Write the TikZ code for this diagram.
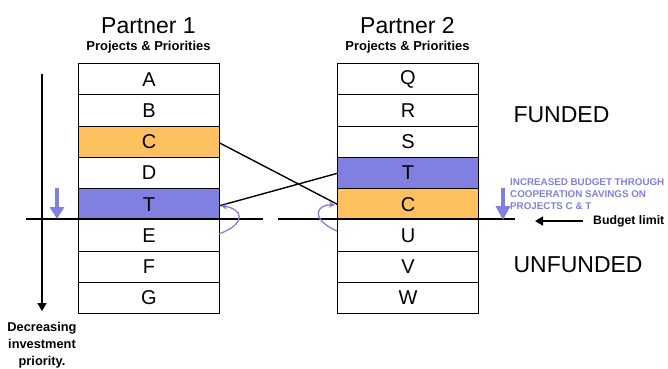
\documentclass[tikz,border=0pt]{standalone}
\usepackage{fontspec}
\setmainfont{Liberation Sans}
\usetikzlibrary{arrows.meta}
\definecolor{porange}{RGB}{255,192,96}
\definecolor{pblue}{RGB}{128,128,224}
\begin{document}
\begin{tikzpicture}[x=1pt,y=-1pt,
  cell/.style={draw=black,line width=1pt,minimum width=141pt,minimum height=31.25pt,inner sep=0pt,anchor=north west,font=\fontsize{20}{20}\selectfont},
  title/.style={font=\fontsize{23}{23}\selectfont},
  subtitle/.style={font=\bfseries\fontsize{13}{13}\selectfont},
  big/.style={font=\fontsize{23}{23}\selectfont},
  bline/.style={line width=1.4pt},
  curv/.style={pblue,line width=1.3pt,-{Stealth[length=6pt,width=6pt]}}]
\useasboundingbox (0,0) rectangle (668,368);
% titles
\node[title] (t1) at (148.5,26) {Partner 1};
\node[subtitle] (s1) at (148.5,47) {Projects \& Priorities};
\node[title] (t2) at (407.5,26) {Partner 2};
\node[subtitle] (s2) at (407.5,47) {Projects \& Priorities};
% columns
\foreach \l [count=\i from 0] in {A,B,C,D,T,E,F,G}{
  \node[cell] (p1\l) at (78,63+31.25*\i) {\l};
}
\foreach \l [count=\i from 0] in {Q,R,S,T,C,U,V,W}{
  \node[cell] (p2\l) at (337,63+31.25*\i) {\l};
}
\node[cell,fill=porange] (p1C) at (78,63+31.25*2) {C};
\node[cell,fill=pblue] (p1T) at (78,63+31.25*4) {T};
\node[cell,fill=pblue] (p2T) at (337,63+31.25*3) {T};
\node[cell,fill=porange] (p2C) at (337,63+31.25*4) {C};
% budget lines
\coordinate (bl1) at (26,219);
\coordinate (bl2) at (263,219);
\coordinate (bl3) at (278,219);
\coordinate (bl4) at (515,219);
\draw[bline] (bl1) -- (bl2);
\draw[bline] (bl3) -- (bl4);
% crossing lines
\draw[bline] ([yshift=-1.5pt]p1C.east) -- (p2C.west);
\draw[bline] ([yshift=-1.5pt]p1T.east) -- ([yshift=-0.5pt]p2T.west);
% curved arrows
\coordinate (ca1) at (219,234);
\coordinate (ca1t) at (221,206);
\coordinate (ca2) at (337,231);
\coordinate (ca2t) at (335,205);
\draw[curv] (ca1) .. controls (250,222) and (240,208) .. (ca1t);
\draw[curv] (ca2) .. controls (308,218) and (318,204) .. (ca2t);
% priority arrow
\coordinate (pa1) at (42,74);
\coordinate (pa2) at (42,311);
\draw[line width=1.6pt,-{Triangle[length=8pt,width=9pt]}] (pa1) -- (pa2);
\node[font=\bfseries\fontsize{12.8}{17}\selectfont,align=center] (dec) at (42,345) {Decreasing\\investment\\priority.};
% blue down arrows
\coordinate (ba1) at (57,188);
\coordinate (ba2) at (57,219);
\draw[pblue,line width=4pt,-{Triangle[length=12pt,width=14pt]}] (ba1) -- (ba2);
\coordinate (ba3) at (503,188);
\coordinate (ba4) at (503,220);
\draw[pblue,line width=4pt,-{Triangle[length=14pt,width=14pt]}] (ba3) -- (ba4);
% labels
\node[big,anchor=west] (fund) at (510,115) {FUNDED};
\node[big,anchor=west] (unfund) at (510,265) {UNFUNDED};
\node[pblue,font=\bfseries\fontsize{9.8}{12}\selectfont,align=left,anchor=north west,inner sep=0pt] (inc) at (510,178) {INCREASED BUDGET THROUGH\\COOPERATION SAVINGS ON\\PROJECTS C \& T};
\node[font=\bfseries\fontsize{12.3}{12}\selectfont,anchor=west,inner sep=0pt] (blim) at (593,221) {Budget limit};
\draw[line width=1.6pt,-{Triangle[length=8pt,width=9pt]}] (blim.west) ++(-10,0) coordinate (bs) -- ++(-48,0) coordinate (be);
\end{tikzpicture}
\end{document}
